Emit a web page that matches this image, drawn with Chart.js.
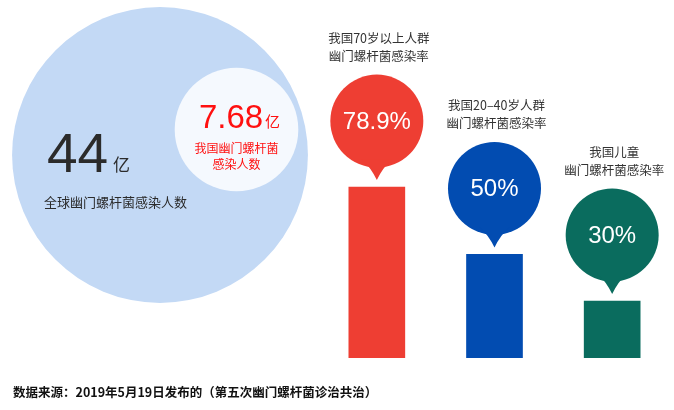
<!DOCTYPE html>
<html>
<head>
<meta charset="utf-8">
<script src="https://cdn.jsdelivr.net/npm/chart.js@4"></script>
<style>
  html, body { margin: 0; padding: 0; background: #fff; }
  #wrap { position: relative; width: 674px; height: 410px; overflow: hidden; }
  #wrap canvas { position: absolute; left: 0; top: 0; }
  #source {
    position: absolute; left: 13px; top: 383px;
    font: bold 12.5px "Noto Sans CJK SC", "Liberation Sans", sans-serif;
    color: #111; white-space: nowrap; line-height: 18px;
  }
</style>
</head>
<body>
<div id="wrap">
  <canvas id="circleChart" width="320" height="320" style="width:320px;height:320px"></canvas>
  <canvas id="barChart" width="674" height="410" style="width:674px;height:410px"></canvas>
  <div id="source">数据来源：2019年5月19日发布的（第五次幽门螺杆菌诊治共治）</div>
</div>
<script>
// infected people, 亿
const infectedValues = [44, 7.68];
const infectedUnit = '亿';
const infectedLabels = [['全球幽门螺杆菌感染人数'], ['我国幽门螺杆菌', '感染人数']];

// infection rates, %
const groupLabels = [
    ['我国70岁以上人群', '幽门螺杆菌感染率'],
    ['我国20–40岁人群', '幽门螺杆菌感染率'],
    ['我国儿童', '幽门螺杆菌感染率']
];
const rates = [78.9, 50, 30];
const rateLabels = ['78.9%', '50%', '30%'];

const barColors = ['#ee3e33', '#024cb1', '#0a6c5e'];
const FONT = '"Liberation Sans", "Noto Sans CJK SC", sans-serif';
const CJK = '"Noto Sans CJK SC", "Liberation Sans", sans-serif';

// where the two circles sit (pixels), radius follows the value (area ~ value)
const circleCenters = [{x: 160, y: 155}, {x: 236.5, y: 129.5}];
const circleScale = 22.3;

// bubble chart that doesn't shrink its area to fit the big radius
class PlainBubbleController extends Chart.BubbleController {
    getMaxOverflow() { return 0; }
}
PlainBubbleController.id = 'plainBubble';
PlainBubbleController.defaults = Chart.BubbleController.defaults;
PlainBubbleController.overrides = Chart.BubbleController.overrides;
Chart.register(PlainBubbleController);

const circleText = {
    id: 'circleText',
    afterDatasetsDraw(chart) {
        const ctx = chart.ctx;
        const pts = chart.getDatasetMeta(0).data;
        const big = pts[0], small = pts[1];
        ctx.save();
        // world
        ctx.fillStyle = '#2b2b2b';
        ctx.textBaseline = 'alphabetic';
        ctx.textAlign = 'left';
        ctx.font = '55px ' + FONT;
        ctx.fillText(String(infectedValues[0]), big.x - 113, big.y + 17);
        ctx.font = '17px ' + CJK;
        ctx.fillText(infectedUnit, big.x - 47, big.y + 16);
        ctx.textBaseline = 'middle';
        ctx.font = '13px ' + CJK;
        ctx.fillText(infectedLabels[0][0], big.x - 116, big.y + 47);
        // china
        ctx.fillStyle = '#ff1010';
        ctx.textBaseline = 'alphabetic';
        ctx.font = '33px ' + FONT;
        const num = String(infectedValues[1]);
        const w1 = ctx.measureText(num).width;
        ctx.font = '15px ' + CJK;
        const w2 = ctx.measureText(infectedUnit).width;
        const start = small.x + 3 - (w1 + w2 + 2) / 2;
        ctx.font = '33px ' + FONT;
        ctx.fillText(num, start, small.y - 2);
        ctx.font = '15px ' + CJK;
        ctx.fillText(infectedUnit, start + w1 + 2, small.y - 3);
        ctx.textAlign = 'center';
        ctx.textBaseline = 'middle';
        ctx.font = '12px ' + CJK;
        infectedLabels[1].forEach((line, i) => {
            ctx.fillText(line, small.x, small.y + 18.5 + i * 16);
        });
        ctx.restore();
    }
};

new Chart(document.getElementById('circleChart'), {
    type: 'plainBubble',
    data: {
        datasets: [{
            data: infectedValues.map((v, i) => ({x: circleCenters[i].x, y: circleCenters[i].y})),
            radius: ctx => circleScale * Math.sqrt(infectedValues[ctx.dataIndex]),
            backgroundColor: ['#c3d9f5', '#f5f9fe'],
            borderWidth: 0,
            clip: false
        }]
    },
    options: {
        responsive: false,
        animation: false,
        events: [],
        layout: { padding: 0 },
        plugins: { legend: { display: false }, tooltip: { enabled: false } },
        scales: {
            x: { type: 'linear', min: 0, max: 320, display: false },
            y: { type: 'linear', min: 0, max: 320, reverse: true, display: false }
        }
    },
    plugins: [circleText]
});

const bubbles = {
    id: 'bubbles',
    afterDatasetsDraw(chart) {
        const ctx = chart.ctx;
        const bars = chart.getDatasetMeta(0).data;
        ctx.save();
        bars.forEach((bar, i) => {
            const cx = bar.x, top = bar.y;
            const cy = top - 66, r = 46.5;
            ctx.fillStyle = barColors[i];
            ctx.beginPath();
            ctx.arc(cx, cy, r, 0, Math.PI * 2);
            ctx.fill();
            ctx.beginPath();
            ctx.moveTo(cx - 15, cy + r - 8);
            ctx.quadraticCurveTo(cx - 6, cy + r, cx, top - 7);
            ctx.quadraticCurveTo(cx + 6, cy + r, cx + 15, cy + r - 8);
            ctx.closePath();
            ctx.fill();
            ctx.fillStyle = '#fff';
            ctx.textAlign = 'center';
            ctx.textBaseline = 'middle';
            ctx.font = '24px ' + FONT;
            ctx.fillText(rateLabels[i], cx, cy + 1);
            ctx.fillStyle = '#333';
            ctx.font = '12.5px ' + CJK;
            groupLabels[i].forEach((line, j) => {
                ctx.fillText(line, cx + 2, top - 149 + j * 18);
            });
        });
        ctx.restore();
    }
};

new Chart(document.getElementById('barChart'), {
    type: 'bar',
    data: {
        labels: groupLabels.map(l => l.join('')),
        datasets: [{
            data: rates,
            backgroundColor: barColors,
            barThickness: 56,
            borderWidth: 0
        }]
    },
    options: {
        responsive: false,
        animation: false,
        events: [],
        layout: { padding: { left: 318, right: 3, top: 138, bottom: 52 } },
        plugins: { legend: { display: false }, tooltip: { enabled: false } },
        scales: {
            x: { display: false },
            y: { display: false, min: 5.5, max: 100 }
        }
    },
    plugins: [bubbles]
});
</script>
</body>
</html>
